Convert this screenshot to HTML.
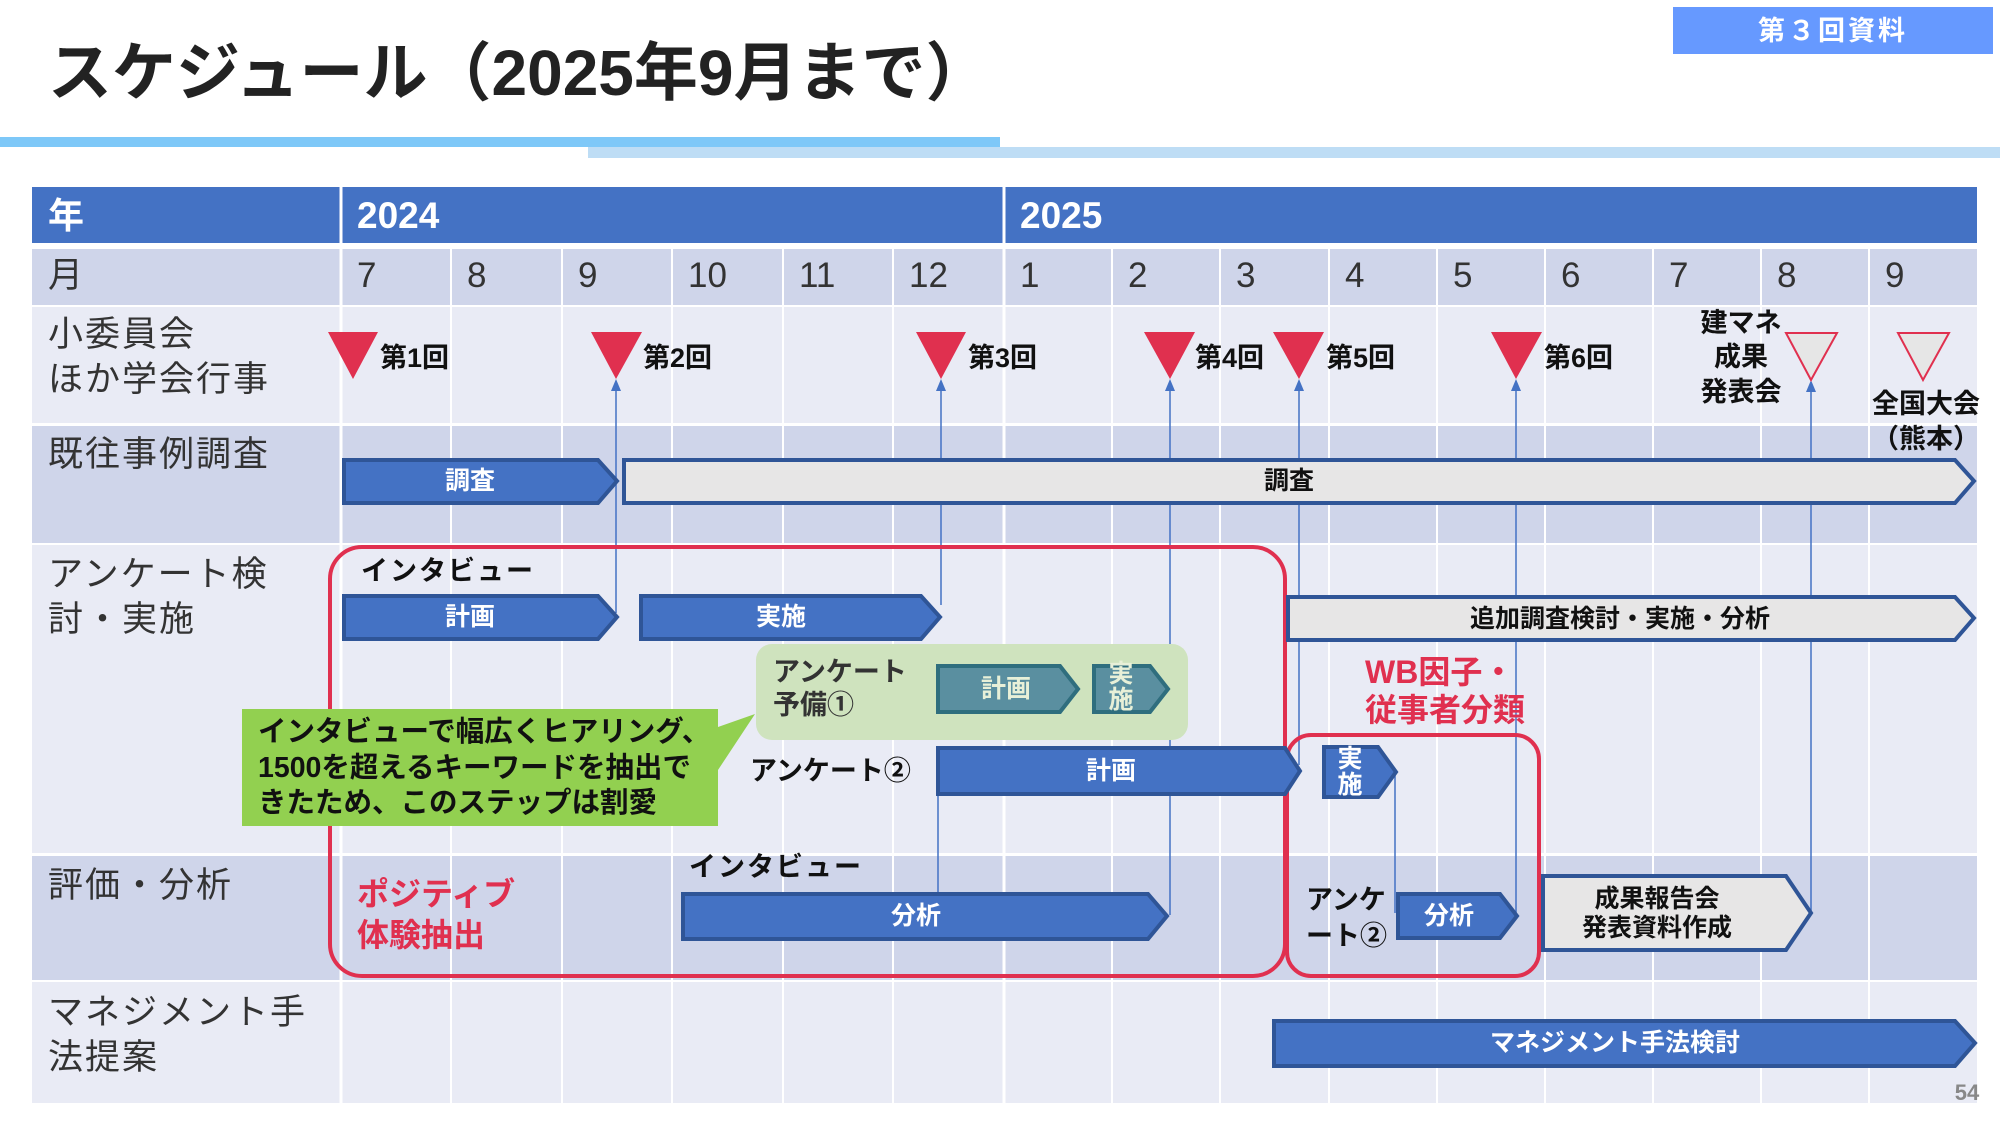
<!DOCTYPE html>
<html><head><meta charset="utf-8"><style>
html,body{margin:0;padding:0;background:#fff}
svg{display:block}
text{font-family:"Liberation Sans","Noto Sans CJK JP",sans-serif}
.lb{font-size:35px;fill:#333;letter-spacing:2px}
.mo{font-size:35px;fill:#333}
.w{fill:#fff;font-weight:bold;font-size:25px;text-anchor:middle}
.k{fill:#111;font-weight:bold;font-size:27px}
.r{fill:#E0304F;font-weight:bold;font-size:32px}
</style></head><body>
<svg width="2000" height="1125" viewBox="0 0 2000 1125" xmlns="http://www.w3.org/2000/svg">
<rect width="2000" height="1125" fill="#fff"/>
<text x="48" y="95" font-size="64" font-weight="bold" fill="#222">スケジュール（2025年9月まで）</text>
<rect x="0" y="137" width="1000" height="10" fill="#7EC8F8"/>
<rect x="588" y="147" width="1412" height="11" fill="#BEDDF5"/>
<rect x="1673" y="7" width="320" height="47" fill="#6699FF"/>
<text x="1833" y="40" font-size="27" font-weight="bold" fill="#fff" text-anchor="middle" letter-spacing="3">第３回資料</text>

<rect x="32" y="187" width="1945" height="56" fill="#4472C4"/>
<rect x="32" y="249" width="1945" height="56" fill="#CFD5EA"/>
<rect x="32" y="307" width="1945" height="116" fill="#E9EBF5"/>
<rect x="32" y="426" width="1945" height="117" fill="#CFD5EA"/>
<rect x="32" y="545" width="1945" height="308" fill="#E9EBF5"/>
<rect x="32" y="856" width="1945" height="124" fill="#CFD5EA"/>
<rect x="32" y="982" width="1945" height="121" fill="#E9EBF5"/>
<g stroke="#fff" stroke-width="3">
<line x1="341" y1="187" x2="341" y2="1103"/>
<line x1="1004" y1="187" x2="1004" y2="1103"/>
<g stroke-width="2">
<line x1="451" y1="243" x2="451" y2="1103"/><line x1="562" y1="243" x2="562" y2="1103"/>
<line x1="672" y1="243" x2="672" y2="1103"/><line x1="783" y1="243" x2="783" y2="1103"/>
<line x1="893" y1="243" x2="893" y2="1103"/><line x1="1112" y1="243" x2="1112" y2="1103"/>
<line x1="1220" y1="243" x2="1220" y2="1103"/><line x1="1329" y1="243" x2="1329" y2="1103"/>
<line x1="1437" y1="243" x2="1437" y2="1103"/><line x1="1545" y1="243" x2="1545" y2="1103"/>
<line x1="1653" y1="243" x2="1653" y2="1103"/><line x1="1761" y1="243" x2="1761" y2="1103"/>
<line x1="1869" y1="243" x2="1869" y2="1103"/>
</g></g>
<text x="48" y="228" font-size="36" font-weight="bold" fill="#fff">年</text>
<text x="357" y="228" font-size="37" font-weight="bold" fill="#fff">2024</text>
<text x="1020" y="228" font-size="37" font-weight="bold" fill="#fff">2025</text>
<text x="48" y="287" class="lb">月</text>
<g class="mo">
<text x="357" y="287">7</text><text x="467" y="287">8</text><text x="578" y="287">9</text>
<text x="688" y="287">10</text><text x="799" y="287">11</text><text x="909" y="287">12</text>
<text x="1020" y="287">1</text><text x="1128" y="287">2</text><text x="1236" y="287">3</text>
<text x="1345" y="287">4</text><text x="1453" y="287">5</text><text x="1561" y="287">6</text>
<text x="1669" y="287">7</text><text x="1777" y="287">8</text><text x="1885" y="287">9</text>
</g>
<text x="48" y="346" class="lb">小委員会</text>
<text x="48" y="391" class="lb">ほか学会行事</text>
<text x="48" y="466" class="lb">既往事例調査</text>
<text x="48" y="586" class="lb">アンケート検</text>
<text x="48" y="631" class="lb">討・実施</text>
<text x="48" y="897" class="lb">評価・分析</text>
<text x="48" y="1024" class="lb">マネジメント手</text>
<text x="48" y="1069" class="lb">法提案</text>

<g stroke="#4472C4" stroke-width="1.5" fill="none">
<line x1="616" y1="385" x2="616" y2="613"/>
<line x1="941" y1="385" x2="941" y2="605"/>
<line x1="938" y1="750" x2="938" y2="892"/>
<line x1="1170" y1="385" x2="1170" y2="915"/>
<line x1="1299" y1="385" x2="1299" y2="765"/>
<line x1="1516" y1="385" x2="1516" y2="913"/>
<line x1="1811" y1="385" x2="1811" y2="913"/>
<line x1="1395" y1="772" x2="1395" y2="913"/>
</g>
<g fill="#4472C4">
<path d="M616 379 l-5 12 h10z"/><path d="M941 379 l-5 12 h10z"/><path d="M1170 379 l-5 12 h10z"/>
<path d="M1299 379 l-5 12 h10z"/><path d="M1516 379 l-5 12 h10z"/><path d="M1811 380 l-5 12 h10z"/>
</g>

<g fill="#E0304F">
<path d="M328 332 H378 L353 379Z"/><path d="M591 332 H642 L616 379Z"/><path d="M916 332 H966 L941 379Z"/>
<path d="M1144 332 H1195 L1170 379Z"/><path d="M1273 332 H1324 L1299 379Z"/><path d="M1491 332 H1542 L1516 379Z"/>
</g>
<g fill="#E6E6E6" stroke="#E0304F" stroke-width="2">
<path d="M1786 333 H1837 L1811 380Z"/><path d="M1898 333 H1949 L1923 380Z"/>
</g>
<g class="k">
<text x="380" y="367">第1回</text><text x="643" y="367">第2回</text><text x="968" y="367">第3回</text>
<text x="1195" y="367">第4回</text><text x="1326" y="367">第5回</text><text x="1544" y="367">第6回</text>
</g>
<g class="k" text-anchor="middle">
<text x="1741" y="332">建マネ</text><text x="1741" y="366">成果</text><text x="1741" y="401">発表会</text>
<text x="1926" y="413">全国大会</text><text x="1926" y="448">（熊本）</text>
</g>

<rect x="330" y="547" width="955" height="429" rx="32" fill="none" stroke="#E0304F" stroke-width="4"/>
<rect x="1287" y="735" width="252" height="241" rx="24" fill="none" stroke="#E0304F" stroke-width="4"/>

<g stroke="#2F5597" stroke-width="4" stroke-linejoin="miter">
<path d="M344 460 H598 L617 481 L598 503 H344Z" fill="#4472C4"/>
<path d="M624 460 H1955 L1974 481 L1955 503 H624Z" fill="#E7E6E6"/>
<path d="M344 596 H598 L617 617 L598 639 H344Z" fill="#4472C4"/>
<path d="M641 596 H921 L940 617 L921 639 H641Z" fill="#4472C4"/>
<path d="M1288 597 H1955 L1974 618 L1955 640 H1288Z" fill="#E7E6E6"/>
<path d="M938 748 H1285 L1300 771 L1285 794 H938Z" fill="#4472C4"/>
<path d="M1324 747 H1378 L1396 772 L1378 797 H1324Z" fill="#4472C4"/>
<path d="M683 894 H1148 L1167 916 L1148 939 H683Z" fill="#4472C4"/>
<path d="M1398 894 H1500 L1517 916 L1500 938 H1398Z" fill="#4472C4"/>
<path d="M1543 876 H1786 L1811 913 L1786 950 H1543Z" fill="#E7E6E6"/>
<path d="M1274 1021 H1955 L1975 1043 L1955 1066 H1274Z" fill="#4472C4"/>
</g>
<text x="470" y="489" class="w">調査</text>
<text x="1289" y="489" class="w" style="fill:#111">調査</text>
<text x="470" y="625" class="w">計画</text>
<text x="781" y="625" class="w">実施</text>
<text x="1620" y="627" class="w" style="fill:#111">追加調査検討・実施・分析</text>
<text x="1111" y="779" class="w">計画</text>
<text x="1350" y="767" class="w">実</text><text x="1350" y="793" class="w">施</text>
<text x="916" y="924" class="w">分析</text>
<text x="1449" y="924" class="w">分析</text>
<text x="1657" y="907" class="w" style="fill:#111">成果報告会</text>
<text x="1657" y="936" class="w" style="fill:#111">発表資料作成</text>
<text x="1615" y="1051" class="w">マネジメント手法検討</text>

<rect x="756" y="644" width="432" height="96" rx="16" fill="#CFE3BE"/>
<text x="773" y="681" class="k" style="fill:#333">アンケート</text>
<text x="773" y="714" class="k" style="fill:#333">予備①</text>
<g stroke="#2F6E7E" stroke-width="4" fill="#5A8FA0">
<path d="M938 666 H1060 L1078 689 L1060 712 H938Z"/>
<path d="M1094 666 H1150 L1168 689 L1150 712 H1094Z"/>
</g>
<text x="1006" y="697" class="w" style="fill:#E8F0D8">計画</text>
<text x="1121" y="682" class="w" style="fill:#E8F0D8">実</text><text x="1121" y="708" class="w" style="fill:#E8F0D8">施</text>

<path d="M242 709 H718 V727 L755 714 L718 770 V826 H242Z" fill="#92D050"/>
<text x="258" y="741" class="k" style="font-size:28.5px">インタビューで幅広くヒアリング、</text>
<text x="258" y="777" class="k" style="font-size:28.5px">1500を超えるキーワードを抽出で</text>
<text x="258" y="812" class="k" style="font-size:28.5px">きたため、このステップは割愛</text>

<text x="361" y="580" class="k" letter-spacing="2">インタビュー</text>
<text x="750" y="780" class="k">アンケート②</text>
<text x="689" y="876" class="k" letter-spacing="2">インタビュー</text>
<text x="1306" y="909" class="k">アンケ</text>
<text x="1306" y="945" class="k">ート②</text>
<text x="357" y="905" class="r">ポジティブ</text>
<text x="357" y="946" class="r">体験抽出</text>
<text x="1365" y="683" class="r">WB因子・</text>
<text x="1365" y="721" class="r">従事者分類</text>
<text x="1967" y="1100" font-size="22" font-weight="bold" fill="#888" text-anchor="middle">54</text>
</svg>
</body></html>
